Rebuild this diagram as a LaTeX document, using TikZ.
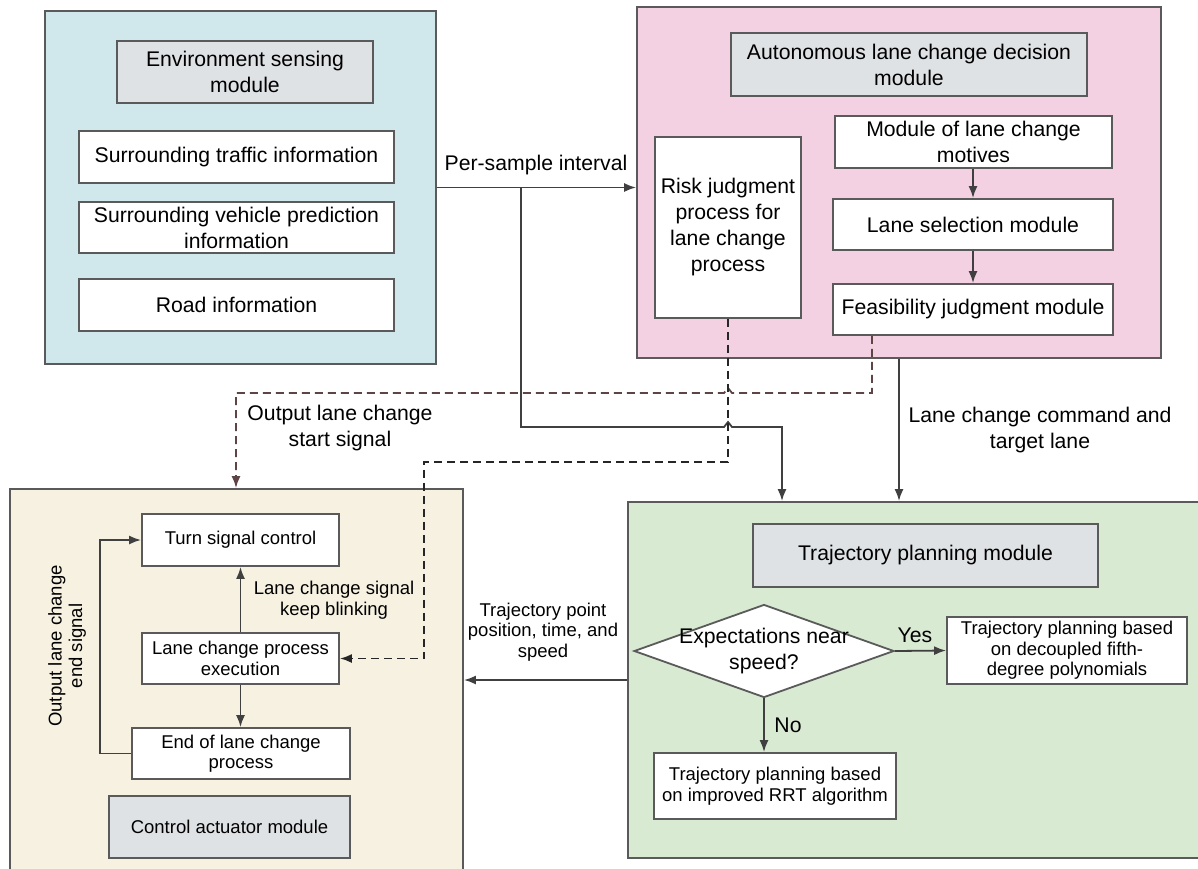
\documentclass[tikz,border=0pt]{standalone}
\usepackage{fontspec}
\setmainfont{Liberation Sans}
\usetikzlibrary{arrows.meta, shapes.geometric}
\definecolor{envblue}{HTML}{D0E8EC}
\definecolor{decpink}{HTML}{F3D1E3}
\definecolor{actbeige}{HTML}{F6F1E0}
\definecolor{trajgreen}{HTML}{D9EAD3}
\definecolor{titlegray}{HTML}{DFE2E5}
\definecolor{edgegray}{HTML}{5A5A5A}
\definecolor{linegray}{HTML}{404040}
\definecolor{sigbrown}{HTML}{5E4444}
\newcommand{\fbig}{\fontsize{21.2}{26}\selectfont}
\newcommand{\fsmall}{\fontsize{18.5}{20.5}\selectfont}
\tikzset{ grp/.style = { rectangle
                       , draw         = edgegray
                       , line width   = 1.8pt
                       , inner sep    = 0pt
                       },
          blk/.style = { rectangle
                       , draw         = edgegray
                       , fill         = white
                       , line width   = 1.8pt
                       , inner sep    = 0pt
                       , align        = center
                       , font         = \fbig
                       },
          sblk/.style = { blk
                        , font        = \fsmall
                        },
          ttl/.style = { blk
                       , fill         = titlegray
                       },
          lbl/.style = { align        = center
                       , inner sep    = 0pt
                       , font         = \fbig
                       },
          slbl/.style = { lbl
                        , font        = \fsmall
                        },
          arr/.style = { draw         = linegray
                       , line width   = 1.8pt
                       , -{Latex[length=12pt, width=9pt]}
                       },
          darr/.style = { arr
                        , draw        = black!85
                        , dash pattern = on 8pt off 5pt
                        },
          barr/.style = { arr
                        , draw        = sigbrown
                        , dash pattern = on 8pt off 5pt
                        }
        }

\begin{document}
\begin{tikzpicture}[x=1pt, y=-1pt]
    \useasboundingbox (0,0) rectangle (1198,868);
    \clip (0,0) rectangle (1198,868);
    % containers
    \node[grp, fill=envblue,   minimum width=391pt, minimum height=353pt] (env)  at (240.5,187.5) {};
    \node[grp, fill=decpink,   minimum width=524pt, minimum height=351pt] (dec)  at (899,182.5)   {};
    \node[grp, fill=actbeige,  minimum width=453pt, minimum height=391pt] (act)  at (236.5,684.5) {};
    \node[grp, fill=trajgreen, minimum width=572pt, minimum height=356pt] (traj) at (914,680)     {};
    % environment sensing
    \node[ttl, minimum width=256pt, minimum height=62pt] (envt)    at (245,72)      {Environment sensing\\module};
    \node[blk, minimum width=315pt, minimum height=52pt] (traffic) at (236.5,157)   {Surrounding traffic information};
    \node[blk, minimum width=315pt, minimum height=51pt] (vehpred) at (236.5,227.5) {Surrounding vehicle prediction\\information};
    \node[blk, minimum width=315pt, minimum height=52pt] (road)    at (236.5,305)   {Road information};
    % lane change decision
    \node[ttl, minimum width=356pt, minimum height=63pt]  (dect)    at (909,64.5)    {Autonomous lane change decision\\module};
    \node[blk, minimum width=146pt, minimum height=181pt] (risk)    at (728,227.5)   {Risk judgment\\process for\\lane change\\process};
    \node[blk, minimum width=277pt, minimum height=52pt]  (motives) at (973.5,142)   {Module of lane change\\motives};
    \node[blk, minimum width=280pt, minimum height=51pt]  (lanesel) at (973,224.5)   {Lane selection module};
    \node[blk, minimum width=280pt, minimum height=51pt]  (feas)    at (973,309.5)   {Feasibility judgment module};
    \draw[arr] (motives.south -| lanesel.north) -- (lanesel.north);
    \draw[arr] (lanesel.south) -- (feas.north);
    % control actuator
    \node[sblk, minimum width=197pt, minimum height=52pt] (turn)  at (240.5,540)   {Turn signal control};
    \node[sblk, minimum width=197pt, minimum height=51pt] (exec)  at (240.5,658.5) {Lane change process\\execution};
    \node[sblk, minimum width=218pt, minimum height=51pt] (endlc) at (241,753.5)   {End of lane change\\process};
    \node[ttl, font=\fsmall, minimum width=241pt, minimum height=62pt] (actt) at (229.5,827) {Control actuator module};
    \draw[arr] (exec.north) -- (exec.north |- turn.south);
    \draw[arr] (exec.south) -- (exec.south |- endlc.north);
    \draw[arr] (endlc.west) -- (100,0 |- endlc.west) -- (100,0 |- turn.west) -- (turn.west);
    \node[slbl, rotate=90] (endsig) at (67,646)  {Output lane change\\end signal};
    \node[slbl]            (blink)  at (334,600) {Lane change signal\\keep blinking};
    % trajectory planning
    \node[ttl, minimum width=345pt, minimum height=63pt] (trajt) at (925.5,555.5) {Trajectory planning module};
    \node[diamond, draw=edgegray, fill=white, line width=1.8pt, inner sep=0pt,
          minimum width=260pt, minimum height=93pt] (speedq) at (764,651) {};
    \node[lbl] (speedtxt) at (speedq) {Expectations near\\speed?};
    \node[sblk, minimum width=240pt, minimum height=67pt] (quintic) at (1067,650.5) {Trajectory planning based\\on decoupled fifth-\\degree polynomials};
    \node[sblk, minimum width=242pt, minimum height=66pt] (rrt)     at (775,786)    {Trajectory planning based\\on improved RRT algorithm};
    \draw[arr] (speedq.east) -- (quintic.west);
    \draw[arr] (speedq.south) -- (speedq.south |- rrt.north);
    \node[lbl] (yes) at (915,635) {Yes};
    \node[lbl] (no)  at (788,725) {No};
    % connections between modules
    \coordinate (split) at (521,0 |- env.east);
    \draw[arr] (env.east) -- (env.east -| dec.west);
    \node[lbl] (interval) at (536,165) {Per-sample interval};
    \draw[arr] (split) -- (521,427) -- (724,427) -- (728,422) -- (732,427) -- (782,427) -- (782,0 |- traj.north);
    \draw[arr] (dec.south) -- (dec.south |- traj.north);
    \node[lbl] (cmd) at (1040,430) {Lane change command and\\target lane};
    \draw[barr] (872,0 |- feas.south) -- (872,393) -- (732,393) -- (728,388) -- (724,393) -- (236,393) -- (236,0 |- act.north);
    \node[lbl] (startsig) at (340,428) {Output lane change\\start signal};
    \draw[darr] (risk.south) -- (728,462) -- (424,462) -- (424,0 |- exec.east) -- (exec.east);
    \draw[arr] (traj.west) -- (traj.west -| act.east);
    \node[slbl] (trajpt) at (543,632) {Trajectory point\\position, time, and\\speed};
\end{tikzpicture}
\end{document}
